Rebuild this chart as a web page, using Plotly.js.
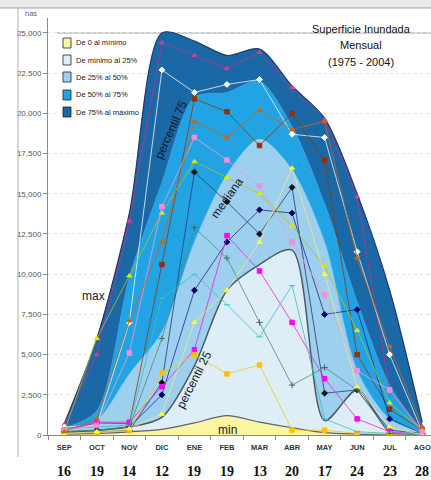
<!DOCTYPE html>
<html><head><meta charset="utf-8">
<script src="https://cdn.plot.ly/plotly-3.0.1.min.js"></script>
<style>html,body{margin:0;padding:0;background:#fff;}#chart{width:431px;height:480px;}</style>
</head><body><div id="chart"></div>
<script>
// ---------- data ----------
const meses = ['SEP','OCT','NOV','DIC','ENE','FEB','MAR','ABR','MAY','JUN','JUL','AGO'];
const numeros = ['16','19','14','12','19','19','13','20','17','24','23','28'];
const yTicks = [0,2500,5000,7500,10000,12500,15000,17500,20000,22500,25000];

// band boundaries (has)
const minimo  = [50, 100, 200, 350, 750, 1200, 800, 450, 150, 60, 20, 0];
const p25     = [150, 250, 500, 1100, 4300, 9000, 10600, 11500, 900, 2800, 200, 50];
const mediana = [300, 900, 3800, 6400, 12000, 16200, 18400, 16500, 12000, 4000, 1000, 200];
const p75     = [450, 1500, 9800, 15700, 21000, 21300, 22000, 19200, 14400, 8300, 3100, 300];
const maximo  = [700, 6000, 13800, 25000, 24500, 23600, 24000, 21700, 19700, 15000, 9000, 800];

// individual years (estimated)
const rosaAlta     = [650, 5000, 13300, 24400, 23600, 22800, 23800, 21600, 19600, 14800, 2800, 300];
const blanca       = [500, 600, 7000, 22700, 21300, 21800, 22100, 18700, 18500, 11400, 5000, 200];
const rojoOscuro   = [300, 750, 700, 10600, 20900, 20100, 18000, 20000, 17100, 5000, 1600, 300];
const negra        = [100, 200, 300, 3250, 16350, 14500, 12500, 15400, 2600, 2800, 300, 100];
const azulMarino   = [200, 300, 500, 2500, 9000, 12000, 14000, 13800, 7500, 7800, 1000, 100];
const magenta      = [300, 800, 800, 3000, 5300, 12400, 10200, 7000, 3500, 1000, 200, 50];
const dorada       = [100, 150, 300, 3850, 5000, 3800, 4350, 300, 300, 100, 50, 0];
const cian         = [400, 500, 600, 8500, 10000, 8100, 6100, 9300, 1000, 200, 100, 0];
const grisVerde    = [200, 300, 500, 6000, 12900, 11000, 7000, 3100, 4200, 2800, 100, 0];
const amarilla     = [100, 200, 400, 1300, 7000, 9000, 12000, 16600, 10000, 3000, 500, 0];
const verdeAmarilla= [200, 6000, 9900, 13800, 17000, 16000, 15000, 13000, 10500, 6500, 2000, 300];
const rosaClara    = [300, 600, 5100, 14200, 18500, 17100, 15500, 12000, 8700, 4000, 2800, 200];
const naranja      = [200, 1000, 7100, 12000, 19500, 18500, 20200, 19000, 19500, 11000, 5500, 500];

// ---------- layout helpers ----------
const W=431,H=480,ML=48,MR=0,MT=18,MB=45;
const PW=W-ML-MR, PH=H-MT-MB;
function px(x){return (x-ML)/PW;}
function py(y){return (H-MB-y)/PH;}

const bandas = [
 {name:'De 0 al mínimo',   y:minimo,  fill:'tozeroy', fc:'#fbf4a2', lc:'#5a6270', lw:1.2},
 {name:'De mínimo al 25%', y:p25,     fill:'tonexty', fc:'#ddeef6', lc:'#4f5964', lw:1.5},
 {name:'De 25% al 50%',    y:mediana, fill:'tonexty', fc:'#9dd0ee', lc:'#86bde0', lw:0.6},
 {name:'De 50% al 75%',    y:p75,     fill:'tonexty', fc:'#22a4e4', lc:'#2a9cd8', lw:0.6},
 {name:'De 75% al máximo', y:maximo,  fill:'tonexty', fc:'#1a69a6', lc:'#1d3a70', lw:1.2}
];

const traces = bandas.map(b => ({
  x: meses, y: b.y, name: b.name, type:'scatter', mode:'lines',
  line:{shape:'spline', smoothing:0.8, color:b.lc, width:b.lw},
  fill:b.fill, fillcolor:b.fc, showlegend:false, hoverinfo:'skip'
}));

const anios = [
 {y:rosaAlta,      lc:'#c0308a', mc:'#d23c9a', s:'triangle-up'},
 {y:blanca,        lc:'#eef4fb', mc:'#ffffff', s:'diamond'},
 {y:rojoOscuro,    lc:'#8a3a10', mc:'#9a2e00', s:'square'},
 {y:negra,         lc:'#2a3a70', mc:'#111111', s:'diamond'},
 {y:azulMarino,    lc:'#1c2a80', mc:'#000066', s:'diamond'},
 {y:magenta,       lc:'#ee22dd', mc:'#ff00ff', s:'square'},
 {y:dorada,        lc:'#f2c820', mc:'#ffc000', s:'square'},
 {y:cian,          lc:'#3cbcbc', mc:'#33cccc', s:'line-ew-open'},
 {y:grisVerde,     lc:'#4f8a7c', mc:'#3f6f60', s:'cross-thin-open'},
 {y:amarilla,      lc:'#f0ea80', mc:'#ffff33', s:'triangle-up'},
 {y:verdeAmarilla, lc:'#a8c81a', mc:'#e6e600', s:'triangle-up'},
 {y:rosaClara,     lc:'#f09ad0', mc:'#ff88dd', s:'square'},
 {y:naranja,       lc:'#c8641a', mc:'#cc6600', s:'triangle-up'}
];
anios.forEach(a => traces.push({
  x: meses, y: a.y, type:'scatter', mode:'lines+markers',
  line:{color:a.lc, width:0.8}, marker:{symbol:a.s, size:4.5, color:a.mc, line:{width:1, color:a.mc}},
  showlegend:false, hoverinfo:'skip'
}));

// ---------- annotations ----------
const ann = [];
function txt(x, y, text, size, color, extra){
  ann.push(Object.assign({x:px(x), y:py(y), xref:'paper', yref:'paper', xanchor:'center', yanchor:'middle',
    text:text, showarrow:false, font:{family:'Liberation Sans, Arial', size:size, color:color}}, extra||{}));
}
meses.forEach((m,i)=>ann.push({x:m, xref:'x', y:py(472), yref:'paper', xanchor:'center', yanchor:'middle',
  text:'<b>'+numeros[i]+'</b>', showarrow:false,
  font:{family:'Liberation Serif, Times New Roman, serif', size:14, color:'#111'}}));
txt(31, 13, 'has', 7.5, '#666', {font:{family:'Liberation Sans Narrow, Liberation Sans, Arial', size:7.5, color:'#666'}});
txt(361, 29, 'Superficie Inundada', 11, '#111');
txt(361, 45, 'Mensual', 11, '#111');
txt(361, 62, '(1975 - 2004)', 11, '#111');
txt(93, 296, 'max', 12, '#222');
txt(227, 430, 'min', 12, '#222');
txt(171, 130, 'percentil 75', 12, '#10182a', {textangle:-66});
txt(227, 198, 'mediana', 12, '#10182a', {textangle:-55});
txt(194, 380, 'percentil 25', 12, '#10182a', {textangle:-63});

// custom legend
const shapes = [];
const legY = [43, 60, 77, 95, 112];
bandas.forEach((b,i)=>{
  shapes.push({type:'rect', xref:'paper', yref:'paper', x0:px(63), x1:px(71), y0:py(legY[i]-5), y1:py(legY[i]+5),
    fillcolor:b.fc, line:{color:'#222', width:0.8}});
  ann.push({x:px(74), y:py(legY[i]), xref:'paper', yref:'paper', xanchor:'left', yanchor:'middle', text:b.name, showarrow:false,
    font:{family:'Liberation Sans Narrow, Liberation Sans, Arial', size:7.5, color:'#222'}});
});
// frame + 25,000 line
shapes.push({type:'rect', xref:'paper', yref:'paper', x0:px(0), x1:px(431), y0:py(8), y1:py(0), fillcolor:'#e9e9e9', line:{width:0}, layer:'below'});
shapes.push({type:'line', xref:'paper', yref:'paper', x0:px(0), x1:px(431), y0:py(8), y1:py(8), line:{color:'#a0a0a0', width:1}});
shapes.push({type:'line', xref:'paper', yref:'paper', x0:px(18), x1:px(18), y0:py(8), y1:py(457), line:{color:'#b0b0b0', width:1}});
shapes.push({type:'line', xref:'paper', yref:'y', x0:px(57), x1:1, y0:25000, y1:25000, line:{color:'#9a9a9a', width:1}, layer:'below'});

const layout = {
  width:W, height:H, margin:{l:ML, r:MR, t:MT, b:MB, pad:0},
  paper_bgcolor:'#fff', plot_bgcolor:'#fff', showlegend:false,
  font:{family:'Liberation Sans, Arial, sans-serif'},
  xaxis:{type:'category', range:[-0.5, 11.27], showline:true, linecolor:'#8a8a8a', linewidth:1,
    ticks:'outside', tickson:'boundaries', ticklen:4, tickcolor:'#8a8a8a', ticklabelstandoff:5,
    tickvals:meses, ticktext:meses.map(m=>'<b>'+m+'</b>'), showgrid:false, zeroline:false,
    tickfont:{family:'Liberation Sans, Arial', size:7.5, color:'#333'}},
  yaxis:{range:[0, 25930], tickvals:yTicks, tickformat:',d', showline:true, linecolor:'#8a8a8a', linewidth:1,
    ticks:'outside', ticklen:4, tickcolor:'#8a8a8a', showgrid:true, gridcolor:'#e2e2e2', griddash:'dot',
    zeroline:false, tickfont:{family:'Liberation Sans Narrow, Liberation Sans, Arial', size:8, color:'#555'}},
  annotations:ann, shapes:shapes
};
Plotly.newPlot('chart', traces, layout, {displayModeBar:false, staticPlot:true});
</script>
</body></html>
